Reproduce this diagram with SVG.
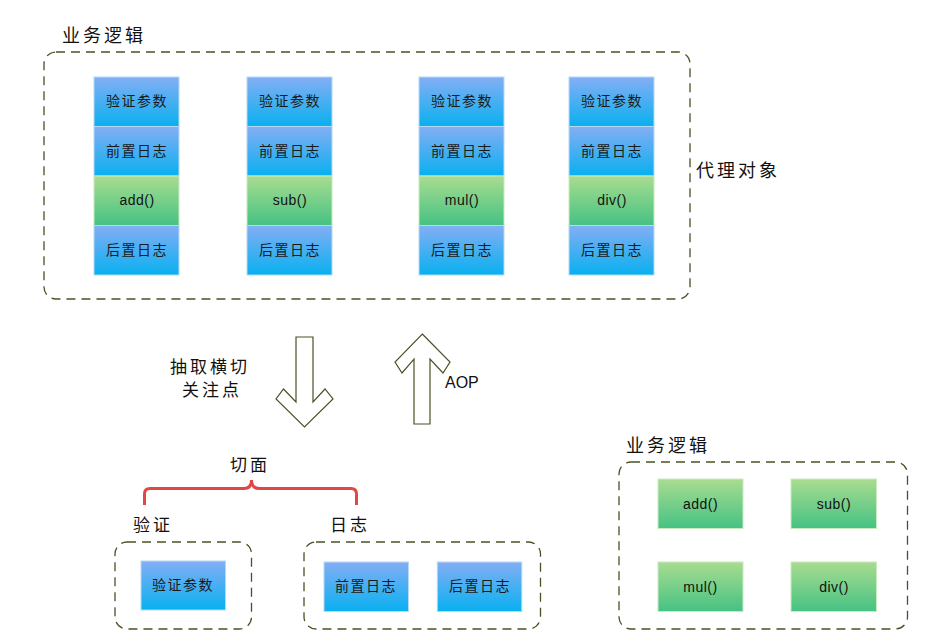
<svg xmlns="http://www.w3.org/2000/svg" width="935" height="636" viewBox="0 0 935 636">
<defs>
<linearGradient id="gb" x1="0" y1="0" x2="0" y2="1"><stop offset="0" stop-color="#84aef4"/><stop offset="1" stop-color="#08b0f0"/></linearGradient>
<linearGradient id="gg" x1="0" y1="0" x2="0" y2="1"><stop offset="0" stop-color="#a9dc90"/><stop offset="1" stop-color="#45c283"/></linearGradient>
<style>
.dash{fill:none;stroke:#4b5124;stroke-width:1.3;stroke-dasharray:9 6}
.b{fill:url(#gb);stroke:#b5d8f5;stroke-width:1}
.g{fill:url(#gg);stroke:#c8ebc0;stroke-width:1}
.t{font-family:"Noto Sans CJK SC","Liberation Sans",sans-serif;font-size:14px;letter-spacing:1.5px;fill:#1a1a1a;text-anchor:middle}
.c{font-family:"Liberation Sans","DejaVu Sans",sans-serif;font-size:14px;letter-spacing:0.5px;fill:#111;text-anchor:middle}
.h{font-family:"Noto Sans CJK SC",sans-serif;font-size:18px;letter-spacing:3px;fill:#111}
.arr{fill:#fff;stroke:#4b5124;stroke-width:1.2}
</style>
</defs>
<rect id="main" class="dash" x="44" y="52" width="646" height="247" rx="12"/>
<text class="h" x="62" y="42">业务逻辑</text>
<text class="h" x="696" y="177">代理对象</text>
<g id="col1">
<rect class="b" x="94" y="77" width="85" height="49.5"/><text class="t" x="137" y="106">验证参数</text>
<rect class="b" x="94" y="126.5" width="85" height="49.5"/><text class="t" x="137" y="156">前置日志</text>
<rect class="g" x="94" y="176" width="85" height="49.5"/><text class="c" x="137" y="205">add()</text>
<rect class="b" x="94" y="225.5" width="85" height="49.5"/><text class="t" x="137" y="255">后置日志</text>
</g>
<g id="col2">
<rect class="b" x="247" y="77" width="85" height="49.5"/><text class="t" x="290" y="106">验证参数</text>
<rect class="b" x="247" y="126.5" width="85" height="49.5"/><text class="t" x="290" y="156">前置日志</text>
<rect class="g" x="247" y="176" width="85" height="49.5"/><text class="c" x="290" y="205">sub()</text>
<rect class="b" x="247" y="225.5" width="85" height="49.5"/><text class="t" x="290" y="255">后置日志</text>
</g>
<g id="col3">
<rect class="b" x="419" y="77" width="85" height="49.5"/><text class="t" x="462" y="106">验证参数</text>
<rect class="b" x="419" y="126.5" width="85" height="49.5"/><text class="t" x="462" y="156">前置日志</text>
<rect class="g" x="419" y="176" width="85" height="49.5"/><text class="c" x="462" y="205">mul()</text>
<rect class="b" x="419" y="225.5" width="85" height="49.5"/><text class="t" x="462" y="255">后置日志</text>
</g>
<g id="col4">
<rect class="b" x="569" y="77" width="85" height="49.5"/><text class="t" x="612" y="106">验证参数</text>
<rect class="b" x="569" y="126.5" width="85" height="49.5"/><text class="t" x="612" y="156">前置日志</text>
<rect class="g" x="569" y="176" width="85" height="49.5"/><text class="c" x="612" y="205">div()</text>
<rect class="b" x="569" y="225.5" width="85" height="49.5"/><text class="t" x="612" y="255">后置日志</text>
</g>
<g id="connectors">
<polygon class="arr" points="296,337 313,337 313,402 325,389 333,399 304.5,427 276,399 283.5,389 296,402"/>
<polygon class="arr" points="422.3,334 450,362 443,373 430,359 430,424 414,424 414,359 402,373 395,362"/>
<path d="M144.5,505 V494 Q144.5,488.5 150,488.5 H244 Q251.5,488.5 251.5,480 Q251.5,488.5 259,488.5 H351 Q356.5,488.5 356.5,494 V505" fill="none" stroke="#e04848" stroke-width="3"/>
</g>
<text class="h" x="170" y="373" style="font-size:17px">抽取横切</text>
<text class="h" x="182" y="396" style="font-size:17px">关注点</text>
<text x="445" y="388" style="font-family:'Liberation Sans',sans-serif;font-size:16px;fill:#111">AOP</text>
<text class="h" x="230" y="471" style="font-size:17px">切面</text>
<text class="h" x="133" y="531" style="font-size:17px">验证</text>
<text class="h" x="330" y="531" style="font-size:17px">日志</text>
<g id="aspect-verify">
<rect class="dash" x="115" y="542" width="136.5" height="87" rx="12"/>
<rect class="b" x="141" y="561" width="84.5" height="49"/><text class="t" x="183" y="590">验证参数</text>
</g>
<g id="aspect-log">
<rect class="dash" x="304" y="542" width="236.5" height="87" rx="12"/>
<rect class="b" x="324" y="562" width="84.5" height="49.5"/><text class="t" x="366" y="591">前置日志</text>
<rect class="b" x="437.3" y="562" width="84.5" height="49.5"/><text class="t" x="480" y="591">后置日志</text>
</g>
<g id="business">
<text class="h" x="626" y="452">业务逻辑</text>
<rect class="dash" x="619" y="462" width="288.5" height="167" rx="12"/>
<rect class="g" x="658" y="479" width="85" height="49.5"/><text class="c" x="700.5" y="509">add()</text>
<rect class="g" x="791" y="479" width="85.5" height="49.5"/><text class="c" x="834" y="509">sub()</text>
<rect class="g" x="658" y="562" width="85" height="49.5"/><text class="c" x="700.5" y="592">mul()</text>
<rect class="g" x="791" y="562" width="85.5" height="49.5"/><text class="c" x="834" y="592">div()</text>
</g>
</svg>
